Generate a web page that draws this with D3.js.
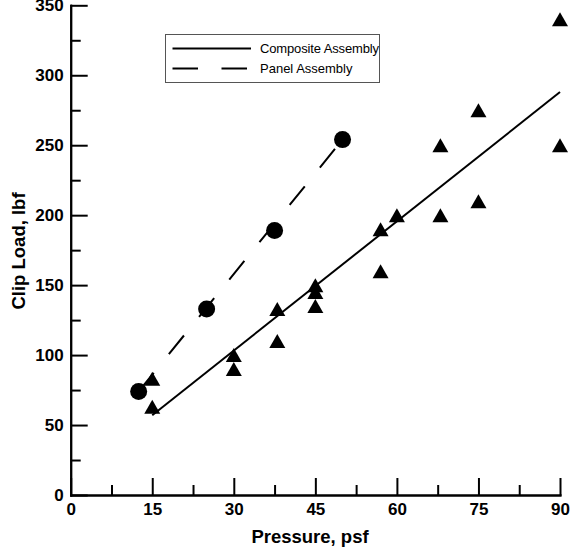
<!DOCTYPE html>
<html lang="en">
<head>
<meta charset="utf-8">
<title>Clip Load vs Pressure</title>
<script src="https://cdn.jsdelivr.net/npm/d3@7"></script>
<style>
  body { margin: 0; background: #fff; }
  svg { display: block; font-family: "Liberation Sans", Arial, sans-serif; }
  .axis text { font-size: 17px; font-weight: bold; fill: #000; }
  .axis path, .axis line { stroke: #000; stroke-width: 2px; }
</style>
</head>
<body>
<svg width="573" height="556"></svg>
<script>

// composite assembly (triangles)
const compPressure = [15, 15, 30, 30, 38, 38, 45, 45, 45, 57, 57, 60, 68, 68, 75, 75, 90, 90];
const compLoad = [83, 63, 100, 90, 133, 110, 150, 145, 135, 190, 160, 200, 250, 200, 275, 210, 250, 340];

// panel assembly (circles)
const panelPressure = [12.5, 25, 37.5, 50];
const panelLoad = [74, 133, 189, 254];

// fitted lines, end points
const compFitX = [15, 90];
const compFitY = [57, 288];
const panelFitX = [12.5, 50];
const panelFitY = [74, 254];

const xTicks = [0, 15, 30, 45, 60, 75, 90];
const xMinor = [7.5, 22.5, 37.5, 52.5, 67.5, 82.5];
const yTicks = [0, 50, 100, 150, 200, 250, 300, 350];
const yMinor = [25, 75, 125, 175, 225, 275, 325];

const legendNames = ["Composite Assembly", "Panel Assembly"];

const svg = d3.select('svg');

const x = d3.scaleLinear().domain([0, 90]).range([70.7, 560]);
const y = d3.scaleLinear().domain([0, 350]).range([495, 5.3]);

// x axis
svg.append('g').attr('class', 'axis')
  .attr('transform', 'translate(0,' + y(0) + ')')
  .call(d3.axisBottom(x).tickValues(xTicks).tickSizeInner(-17).tickSizeOuter(0).tickPadding(8));
svg.append('g').attr('class', 'axis')
  .attr('transform', 'translate(0,' + y(0) + ')')
  .call(d3.axisBottom(x).tickValues(xMinor).tickSizeInner(-10).tickSizeOuter(0).tickFormat(''));

// y axis
svg.append('g').attr('class', 'axis')
  .attr('transform', 'translate(' + x(0) + ',0)')
  .call(d3.axisLeft(y).tickValues(yTicks).tickSizeInner(-17).tickSizeOuter(0).tickPadding(7));
svg.append('g').attr('class', 'axis')
  .attr('transform', 'translate(' + x(0) + ',0)')
  .call(d3.axisLeft(y).tickValues(yMinor).tickSizeInner(-10).tickSizeOuter(0).tickFormat(''));

svg.selectAll('.axis path.domain').attr('stroke-linecap', 'square');

// axis titles
svg.append('text')
  .attr('x', 310).attr('y', 543)
  .attr('text-anchor', 'middle')
  .attr('font-size', 18.5).attr('font-weight', 'bold')
  .text('Pressure, psf');

svg.append('text')
  .attr('transform', 'translate(25,251) rotate(-90)')
  .attr('text-anchor', 'middle')
  .attr('font-size', 18.5).attr('font-weight', 'bold')
  .text('Clip Load, lbf');

// fit lines
const line = d3.line()
  .x(function(d) { return x(d[0]); })
  .y(function(d) { return y(d[1]); });

svg.append('path')
  .attr('d', line(d3.zip(compFitX, compFitY)))
  .attr('fill', 'none').attr('stroke', '#000').attr('stroke-width', 2);

svg.append('path')
  .attr('d', line(d3.zip(panelFitX, panelFitY)))
  .attr('fill', 'none').attr('stroke', '#000').attr('stroke-width', 2)
  .attr('stroke-dasharray', '24,24');

// triangles
const tri = 'M0,-7L8,7L-8,7Z';
svg.selectAll('path.tri')
  .data(d3.zip(compPressure, compLoad))
  .enter().append('path').attr('class', 'tri')
  .attr('d', tri)
  .attr('transform', function(d) { return 'translate(' + x(d[0]) + ',' + y(d[1]) + ')'; })
  .attr('fill', '#000');

// circles
svg.selectAll('circle.pan')
  .data(d3.zip(panelPressure, panelLoad))
  .enter().append('circle').attr('class', 'pan')
  .attr('cx', function(d) { return x(d[0]); })
  .attr('cy', function(d) { return y(d[1]); })
  .attr('r', 8.5)
  .attr('fill', '#000');

// legend
const legend = svg.append('g');
legend.append('rect')
  .attr('x', 165.5).attr('y', 34.5).attr('width', 214).attr('height', 48)
  .attr('fill', '#fff').attr('stroke', '#555').attr('stroke-width', 1);

legend.selectAll('line.key')
  .data(legendNames)
  .enter().append('line').attr('class', 'key')
  .attr('x1', 172.5).attr('x2', 251)
  .attr('y1', function(d, i) { return 48.5 + i * 20; })
  .attr('y2', function(d, i) { return 48.5 + i * 20; })
  .attr('stroke', '#000').attr('stroke-width', 2)
  .attr('stroke-dasharray', function(d, i) { return i === 1 ? '25.5,23.5' : null; });

legend.selectAll('text.key')
  .data(legendNames)
  .enter().append('text').attr('class', 'key')
  .attr('x', 260)
  .attr('y', function(d, i) { return 53 + i * 20; })
  .attr('font-size', 13)
  .attr('textLength', function(d, i) { return i === 0 ? 119 : null; })
  .text(function(d) { return d; });

</script>
</body>
</html>
